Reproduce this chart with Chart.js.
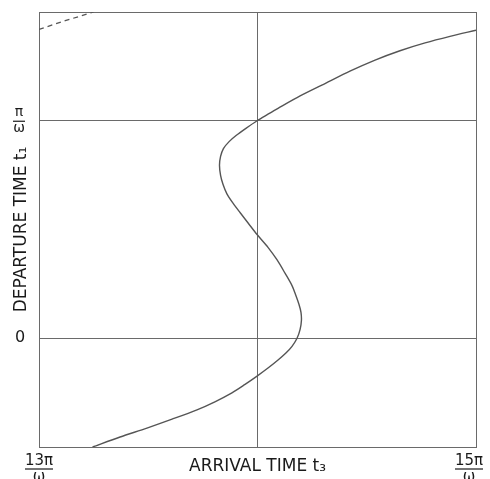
<!DOCTYPE html>
<html>
<head>
<meta charset="utf-8">
<script src="https://cdn.jsdelivr.net/npm/chart.js@4.4.1/dist/chart.umd.min.js"></script>
<style>
    html, body { margin: 0; padding: 0; background: #ffffff; }
    #wrap { width: 490px; height: 479px; }
</style>
</head>
<body>
<div id="wrap"><canvas id="chart"></canvas></div>
<script>
// Data (times in units of pi/omega)
const departure = [-0.5, -0.454, -0.413, -0.372, -0.329, -0.292, -0.251, -0.212, -0.174, -0.137, -0.1,
    -0.068, -0.037, 0, 0.041, 0.082, 0.119, 0.155, 0.201, 0.242, 0.299, 0.361, 0.418, 0.477, 0.53,
    0.578, 0.621, 0.664, 0.708, 0.749, 0.795, 0.836, 0.872, 0.904, 0.932, 0.965, 1.0, 1.03, 1.057,
    1.114, 1.171, 1.228, 1.279, 1.322, 1.358, 1.388, 1.416];
const arrival = [13.245, 13.371, 13.494, 13.609, 13.723, 13.805, 13.883, 13.943, 13.998, 14.048, 14.094,
    14.13, 14.158, 14.181, 14.195, 14.201, 14.199, 14.19, 14.174, 14.158, 14.126, 14.089, 14.048, 13.998, 13.957,
    13.92, 13.888, 13.86, 13.842, 13.831, 13.826, 13.831, 13.844, 13.87, 13.902, 13.947, 13.998, 14.048, 14.094,
    14.195, 14.309, 14.423, 14.538, 14.652, 14.767, 14.881, 15.0];

// Continuation of the curve (dashed, top left)
const dashDeparture = [1.42, 1.46, 1.5];
const dashArrival = [13.0, 13.12, 13.25];

const xGridValues = [13, 14, 15];
const yGridValues = [-0.5, 0, 1, 1.5];

const xTickValues = [13, 15];
const xTickNumerators = ['13π', '15π'];
const yTickZero = '0';
const yTickNumerator = 'π';
const tickDenominator = 'ω';

const xTitle = 'ARRIVAL TIME t₃';
const yTitle = 'DEPARTURE TIME t₁';

const lineColor = '#555555';
const gridColor = '#6a6a6a';
const textColor = '#1a1a1a';
const fontFamily = "'DejaVu Sans', sans-serif";

function toPoints(xs, ys) {
    return xs.map((x, i) => ({ x: x, y: ys[i] }));
}

// Fraction tick labels drawn next to the axes
const tickLabelPlugin = {
    id: 'tickLabels',
    afterDraw(chart) {
        const ctx = chart.ctx;
        const xs = chart.scales.x;
        const ys = chart.scales.y;
        ctx.save();
        ctx.fillStyle = textColor;
        ctx.strokeStyle = textColor;
        ctx.lineWidth = 1.2;
        ctx.textAlign = 'center';
        ctx.textBaseline = 'middle';

        // x axis fractions
        xTickValues.forEach((v, i) => {
            let cx = xs.getPixelForValue(v);
            cx = Math.min(cx, chart.width - 21);
            ctx.font = '15px ' + fontFamily;
            ctx.fillText(xTickNumerators[i], cx, 461);
            ctx.beginPath();
            ctx.moveTo(cx - 14, 469);
            ctx.lineTo(cx + 14, 469);
            ctx.stroke();
            ctx.fillText(tickDenominator, cx, 477);
        });

        // y axis labels
        const y0 = ys.getPixelForValue(0);
        ctx.font = '16px ' + fontFamily;
        ctx.fillText(yTickZero, 20, y0);

        const y1 = ys.getPixelForValue(1);
        ctx.font = '14px ' + fontFamily;
        ctx.fillText(yTickNumerator, 19, y1 - 8);
        ctx.beginPath();
        ctx.moveTo(13, y1 + 0.5);
        ctx.lineTo(25, y1 + 0.5);
        ctx.stroke();
        ctx.fillText(tickDenominator, 19, y1 + 8);
        ctx.restore();
    }
};

const ctx = document.getElementById('chart');
new Chart(ctx, {
    type: 'scatter',
    data: {
        datasets: [{
            data: toPoints(arrival, departure),
            showLine: true,
            borderColor: lineColor,
            borderWidth: 1.4,
            pointRadius: 0,
            tension: 0.3
        }, {
            data: toPoints(dashArrival, dashDeparture),
            showLine: true,
            borderColor: lineColor,
            borderWidth: 1.3,
            borderDash: [5, 4],
            pointRadius: 0,
            tension: 0
        }]
    },
    options: {
        responsive: true,
        maintainAspectRatio: false,
        animation: false,
        layout: { padding: { top: 12, right: 14, left: 0, bottom: 0 } },
        plugins: {
            legend: { display: false },
            tooltip: { enabled: false }
        },
        scales: {
            x: {
                type: 'linear',
                min: 13,
                max: 15,
                afterBuildTicks: (scale) => {
                    scale.ticks = xGridValues.map(v => ({ value: v }));
                },
                afterFit: (scale) => { scale.height = 32; },
                ticks: { display: false },
                grid: { color: gridColor, lineWidth: 1, drawTicks: false },
                border: { display: true, color: gridColor },
                title: {
                    display: true,
                    text: xTitle,
                    color: textColor,
                    font: { family: fontFamily, size: 17 },
                    padding: { top: 0, bottom: 2 }
                }
            },
            y: {
                type: 'linear',
                min: -0.5,
                max: 1.5,
                afterBuildTicks: (scale) => {
                    scale.ticks = yGridValues.map(v => ({ value: v }));
                },
                afterFit: (scale) => { scale.width = 39; },
                ticks: { display: false },
                grid: { color: gridColor, lineWidth: 1, drawTicks: false },
                border: { display: true, color: gridColor },
                title: {
                    display: true,
                    text: yTitle,
                    color: textColor,
                    font: { family: fontFamily, size: 17 },
                    padding: { top: 11, bottom: 0 }
                }
            }
        }
    },
    plugins: [tickLabelPlugin]
});
</script>
</body>
</html>
